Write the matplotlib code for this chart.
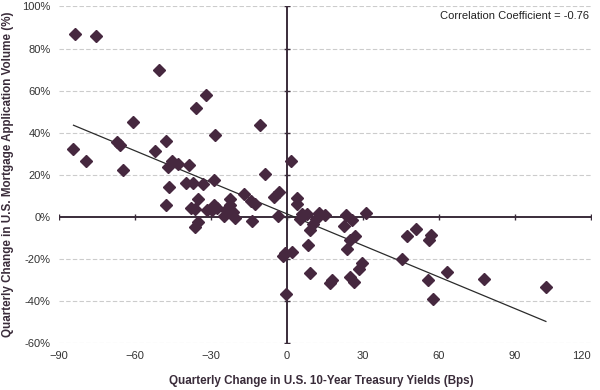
import numpy as np
import matplotlib
matplotlib.use('Agg')
import matplotlib.pyplot as plt

plt.rcParams['font.family'] = ['Liberation Sans', 'DejaVu Sans']

# quarterly change in 10y treasury yields (bps) vs mortgage application volume (%)
yield_change = [
    -83.8, -75.5, -50.3, -31.9, -35.8, -60.6, -10.6, -28.3, -67.2, -65.7,
    -47.6, -84.2, -51.9, -79.4, -45.2, -42.9, -46.8, -38.5, -64.5, 1.6,
    -8.5, -28.7, -39.7, -37.0, -33.0, -46.4, -3.3, -5.1, -16.9, -14.2,
    -12.6, 4.1, 4.1, -35.0, -22.6, -47.6, -28.7, -22.5, -37.7, -36.3,
    -31.5, -29.5, -27.5, -24.0, -21.2, -24.8, -20.4, -35.0, -36.4, -13.6,
    -3.5, 5.9, 7.9, 5.0, 12.6, 15.0, 11.4, 10.2, 9.2, 23.4,
    25.6, 31.3, 22.6, 26.7, 24.8, 8.3, 23.6, -0.8, 2.0, -1.5,
    9.0, 17.7, 16.9, 24.8, 26.3, 28.3, 29.5, -0.4, 47.2, 51.1,
    57.0, 56.2, 45.6, 55.8, 63.3, 57.8, 77.9, 102.2,
]
volume_change = [
    86.7, 85.8, 69.7, 57.8, 51.7, 45.0, 43.6, 38.9, 35.5, 34.1,
    36.0, 32.2, 31.3, 26.5, 26.5, 25.1, 23.7, 24.6, 22.3, 26.5,
    20.4, 17.3, 16.1, 16.3, 15.4, 14.0, 12.0, 9.3, 10.9, 7.6,
    6.2, 9.0, 5.9, 8.5, 8.3, 5.7, 5.7, 5.5, 4.3, 3.5,
    3.3, 3.3, 4.3, 3.0, 2.4, 0.3, -0.5, -2.6, -4.7, -2.1,
    0.5, 1.2, 1.4, -1.2, 1.9, 0.8, -0.9, -3.3, -6.2, 1.0,
    -1.4, 1.9, -4.5, -9.0, -10.9, -13.3, -15.4, -17.0, -16.8, -18.5,
    -26.5, -30.2, -31.5, -28.4, -30.8, -24.6, -21.8, -36.5, -9.0, -5.7,
    -8.5, -10.9, -19.9, -29.9, -26.1, -38.9, -29.4, -33.6,
]
x_ticks = [-90, -60, -30, 0, 30, 60, 90, 120]
y_ticks = [-60, -40, -20, 0, 20, 40, 60, 80, 100]
corr_text = 'Correlation Coefficient = -0.76'

mark_col = '#46283f'
axis_col = '#3a2c3a'
text_col = '#3a2c3a'

x = np.array(yield_change)
y = np.array(volume_change)
slope, inter = np.polyfit(x, y, 1)

fig = plt.figure(figsize=(6, 3.9), dpi=100)
ax = fig.add_axes([0.098, 0.1205, 0.887, 0.863])

for v in y_ticks:
    if v != 0:
        ax.axhline(v, color='#cccccc', lw=0.8, ls=(0, (4, 2)), zorder=1)

ax.axhline(0, color=axis_col, lw=1.4, zorder=2)
ax.axvline(0, color=axis_col, lw=1.4, zorder=2)
# small tick marks on the zero lines
ax.plot(x_ticks, [0] * len(x_ticks), ls='none', marker='|', ms=4, mew=1.0, color=axis_col, zorder=2)
ax.plot([0] * len(y_ticks), y_ticks, ls='none', marker='_', ms=4, mew=1.0, color=axis_col, zorder=2)

xl = np.array([x.min(), x.max()])
ax.plot(xl, slope * xl + inter, color='#2b2b2b', lw=0.9, zorder=3)
ax.plot(x, y, ls='none', marker='D', ms=6, color=mark_col, mec=mark_col, zorder=4)

ax.set_xlim(-90, 120)
ax.set_ylim(-60, 100)
ax.set_xticks(x_ticks)
ax.set_yticks(y_ticks)
ax.set_yticklabels([f'{v}%' for v in y_ticks])
ax.tick_params(length=0, labelsize=8, colors='#333333', pad=6)
ax.get_xticklabels()[-1].set_horizontalalignment('right')
for s in ax.spines.values():
    s.set_visible(False)

fig.text(321 / 600, 1 - 381 / 390, 'Quarterly Change in U.S. 10-Year Treasury Yields (Bps)',
         ha='center', va='center', fontsize=8.4, fontweight='bold', color=text_col)
fig.text(8 / 600, 1 - 174 / 390, 'Quarterly Change in U.S. Mortgage Application Volume (%)',
         ha='center', va='center', rotation=90, fontsize=8.4, fontweight='bold', color=text_col)
fig.text(515 / 600, 1 - 16 / 390, corr_text, ha='center', va='center',
         fontsize=8, color='#222222')

fig.savefig('out.png', dpi=100)
